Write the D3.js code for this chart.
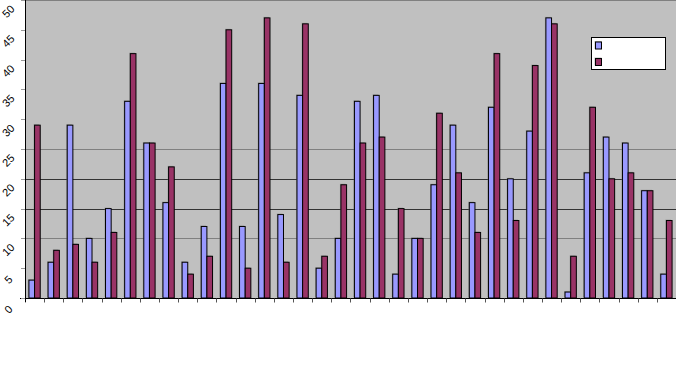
<!DOCTYPE html>
<html>
<head>
<meta charset="utf-8">
<script src="https://cdn.jsdelivr.net/npm/d3@7"></script>
<style>
  body { margin: 0; background: #fff; }
  svg { display: block; }
</style>
</head>
<body>
<div id="chart"></div>
<script>
const WIDTH = 676;
const HEIGHT = 390;
const MARGINS = { left: 25, right: 0, top: 0, bottom: 92 };

// data
const CATEGORIES = d3.range(1, 35).map(String);
const SERIES = ["Series1", "Series2"];
const SERIES1 = [3, 6, 29, 10, 15, 33, 26, 16, 6, 12, 36, 12, 36, 14, 34, 5, 10,
  33, 34, 4, 10, 19, 29, 16, 32, 20, 28, 47, 1, 21, 27, 26, 18, 4];
const SERIES2 = [29, 8, 9, 6, 11, 41, 26, 22, 4, 7, 45, 5, 47, 6, 46, 7, 19,
  26, 27, 15, 10, 31, 21, 11, 41, 13, 39, 46, 7, 32, 20, 21, 18, 13];
const Y_TICKS = [0, 5, 10, 15, 20, 25, 30, 35, 40, 45, 50];
const GRID_LIGHT = [10, 25];
const GRID_DARK = [15, 20];

const COLORS = ["#9999FF", "#993366"];

const VIS_WIDTH = WIDTH - MARGINS.left - MARGINS.right;
const VIS_HEIGHT = HEIGHT - MARGINS.top - MARGINS.bottom;

const svg = d3.select("#chart")
  .append("svg")
  .attr("width", WIDTH)
  .attr("height", HEIGHT);

const X = d3.scaleBand()
  .domain(CATEGORIES)
  .range([MARGINS.left, MARGINS.left + VIS_WIDTH])
  .paddingInner(0.41)
  .paddingOuter(0.205);

const X_INNER = d3.scaleBand()
  .domain(SERIES)
  .range([0, X.bandwidth()]);

const Y = d3.scaleLinear()
  .domain([0, 50])
  .range([MARGINS.top + VIS_HEIGHT, MARGINS.top]);

// plot area
svg.append("rect")
  .attr("x", MARGINS.left)
  .attr("y", MARGINS.top)
  .attr("width", VIS_WIDTH)
  .attr("height", VIS_HEIGHT)
  .attr("fill", "#C0C0C0");

svg.append("line")
  .attr("x1", MARGINS.left).attr("x2", WIDTH)
  .attr("y1", Y(50) + 0.5).attr("y2", Y(50) + 0.5)
  .attr("stroke", "#808080");

// gridlines
svg.selectAll(".grid")
  .data(GRID_LIGHT.map(v => ({ v, c: "#808080" }))
    .concat(GRID_DARK.map(v => ({ v, c: "#333333" }))))
  .enter()
  .append("line")
  .attr("x1", MARGINS.left).attr("x2", WIDTH)
  .attr("y1", d => Math.round(Y(d.v)) + 0.5)
  .attr("y2", d => Math.round(Y(d.v)) + 0.5)
  .attr("stroke", d => d.c);

// bars
const rows = CATEGORIES.map((c, i) => ({ c, vals: [SERIES1[i], SERIES2[i]] }));

const groups = svg.selectAll(".cat")
  .data(rows)
  .enter()
  .append("g")
  .attr("transform", d => "translate(" + X(d.c) + ",0)");

const bars = groups.selectAll(".bar")
  .data(d => d.vals.map((v, k) => ({ s: SERIES[k], v, k })))
  .enter();

// little shadow, as in the original
bars.append("rect")
  .attr("x", d => X_INNER(d.s) - 1)
  .attr("y", d => Y(d.v) - 1)
  .attr("width", X_INNER.bandwidth())
  .attr("height", d => Y(0) - Y(d.v))
  .attr("fill", "#777")
  .attr("opacity", 0.5);

bars.append("rect")
  .attr("x", d => X_INNER(d.s))
  .attr("y", d => Y(d.v))
  .attr("width", X_INNER.bandwidth())
  .attr("height", d => Y(0) - Y(d.v))
  .attr("fill", d => COLORS[d.k])
  .attr("stroke", "#000")
  .attr("stroke-width", 1);

// x axis
const xAxis = svg.append("g")
  .attr("transform", "translate(0," + (Y(0) + 0.5) + ")");

xAxis.append("line")
  .attr("x1", MARGINS.left - 5).attr("x2", WIDTH)
  .attr("stroke", "#000");

xAxis.selectAll(".xtick")
  .data(CATEGORIES)
  .enter()
  .append("line")
  .attr("x1", d => Math.round(X(d) - X.step() * X.paddingInner() / 2) + 0.5)
  .attr("x2", d => Math.round(X(d) - X.step() * X.paddingInner() / 2) + 0.5)
  .attr("y1", 0).attr("y2", 4)
  .attr("stroke", "#555");

// y axis
svg.append("line")
  .attr("x1", MARGINS.left + 0.5).attr("x2", MARGINS.left + 0.5)
  .attr("y1", Y(50)).attr("y2", Y(0) + 4)
  .attr("stroke", "#000");

svg.selectAll(".ytick")
  .data(Y_TICKS)
  .enter()
  .append("line")
  .attr("x1", MARGINS.left - 4).attr("x2", MARGINS.left)
  .attr("y1", d => Math.round(Y(d)) + 0.5)
  .attr("y2", d => Math.round(Y(d)) + 0.5)
  .attr("stroke", "#999");

svg.selectAll(".ylabel")
  .data(Y_TICKS)
  .enter()
  .append("text")
  .attr("transform", d => "translate(9," + (Y(d) + 12) + ") rotate(-45)")
  .attr("text-anchor", "middle")
  .attr("dominant-baseline", "middle")
  .attr("font-family", "Liberation Sans, Arial, sans-serif")
  .attr("font-size", "11px")
  .attr("fill", "#000")
  .text(d => d);

// legend
const legend = svg.append("g")
  .attr("transform", "translate(591.5,37.5)");

legend.append("rect")
  .attr("width", 74)
  .attr("height", 32)
  .attr("fill", "#fff")
  .attr("stroke", "#000");

legend.selectAll(".swatch-shadow")
  .data(SERIES)
  .enter()
  .append("rect")
  .attr("x", 3)
  .attr("y", (d, i) => 3.5 + i * 16.5)
  .attr("width", 7)
  .attr("height", 8)
  .attr("fill", "#777")
  .attr("opacity", 0.5);

legend.selectAll(".swatch")
  .data(SERIES)
  .enter()
  .append("rect")
  .attr("x", 4)
  .attr("y", (d, i) => 4.5 + i * 16.5)
  .attr("width", 6)
  .attr("height", 7)
  .attr("fill", (d, i) => COLORS[i])
  .attr("stroke", "#000");
</script>
</body>
</html>
